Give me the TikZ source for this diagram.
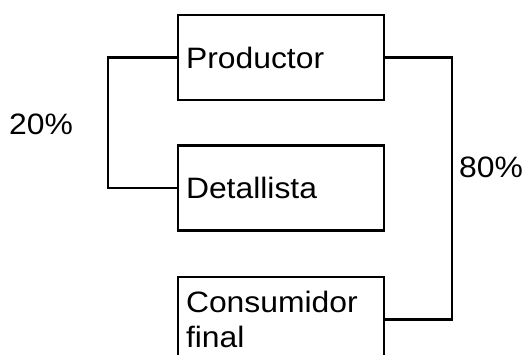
\documentclass[tikz,border=0pt]{standalone}
\usepackage{fontspec}
\setmainfont{Liberation Sans}
\newfontfamily\anchafont[FakeStretch=1.08]{Liberation Sans}
\usetikzlibrary{positioning}

\begin{document}
\begin{tikzpicture}[x=1pt,y=-1pt]
\tikzstyle{caja}=[draw,line width=2.4pt,minimum width=204pt,minimum height=85pt,text width=190pt,inner sep=8pt,align=left,font=\anchafont\fontsize{29.5}{35}\selectfont]
\tikzstyle{linea}=[line width=2.4pt]
\tikzstyle{etiqueta}=[font=\anchafont\fontsize{29.5}{35}\selectfont]
\useasboundingbox (0,0) rectangle (525,354);
\clip (0,0) rectangle (525,354);
\node[caja] (prod) at (281,57.5) {Productor};
\node[caja,below=43pt of prod] (det) {Detallista};
\node[caja,below=44pt of det] (cons) {Consumidor\\final};
\node[etiqueta] (p20) at (41,124) {20\%};
\node[etiqueta] (p80) at (491,167) {80\%};
\draw[linea] (prod.west) -- ++(-69,0) |- (det.west);
\draw[linea] (prod.east) -- ++(67,0) |- (cons.east)
;\end{tikzpicture}
\end{document}
